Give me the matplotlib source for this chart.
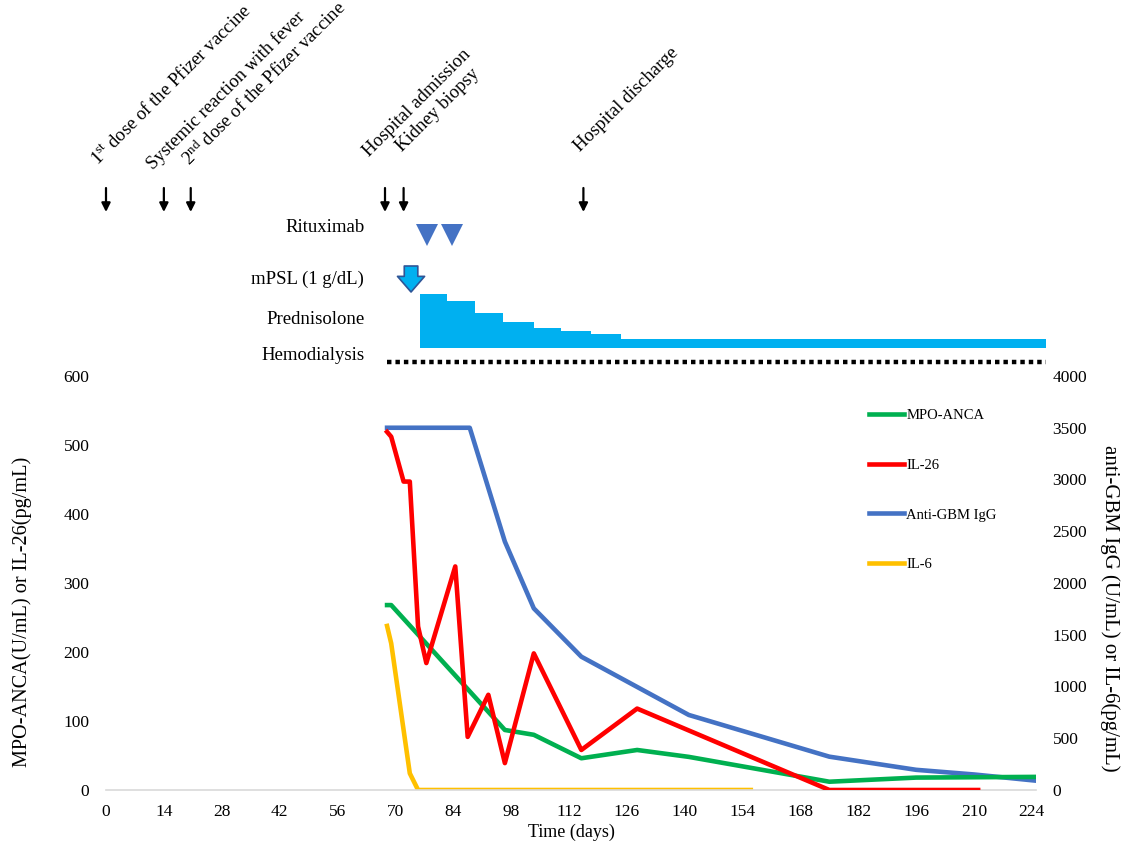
import matplotlib
matplotlib.use("Agg")
import matplotlib.pyplot as plt
from matplotlib.lines import Line2D

plt.rcParams['font.family'] = ['Liberation Serif', 'DejaVu Serif']
plt.rcParams['mathtext.fontset'] = 'custom'
plt.rcParams['mathtext.rm'] = 'Liberation Serif'
plt.rcParams['mathtext.it'] = 'Liberation Serif:italic'

# ---- data ----
# left axis (U/mL or pg/mL)
mpo_days = [68, 69, 96.5, 103.5, 115, 128.5, 141, 175, 196, 225]
mpo_vals = [268, 268, 87, 80, 46, 58, 48, 12, 18, 19]

il26_days = [68, 69, 72, 73.5, 75.5, 77.5, 84.5, 87.5, 92.5, 96.5, 103.5, 115, 128.5, 175, 211]
il26_vals = [519, 512, 447, 447, 237, 184, 324, 77, 138, 39, 198, 58, 118, 0, 0]

# right axis
gbm_days = [68, 88, 96.5, 103.5, 115, 141, 175, 196, 210, 225]
gbm_vals = [3500, 3500, 2400, 1755, 1288, 725, 322, 195, 150, 90]

il6_days = [68, 69, 73.5, 75.5, 156]
il6_vals = [1585, 1417, 161, 0, 0]

x_ticks = list(range(0, 225, 14))

# timeline events
event_days = [0, 14, 20.5, 67.5, 72, 115.5]
event_labels = [r"1$^{\mathrm{st}}$ dose of the Pfizer vaccine",
                "Systemic reaction with fever",
                r"2$^{\mathrm{nd}}$ dose of the Pfizer vaccine",
                "Hospital admission",
                "Kidney biopsy",
                "Hospital discharge"]
label_anchor_days = [-2.0, 11.3, 20.3, 63.6, 71.6, 114.7]
label_anchor_rows = [166, 170, 167, 157, 152, 152]

rituximab_days = [77.7, 83.6]
mpsl_day = 73.8
pred_days = [76, 82.6, 89.3, 96.1, 103.6, 110, 117.3, 124.7, 227.4]
pred_level = [54, 47, 34.5, 26, 20, 17, 13.7, 9, 9]
hd_start, hd_end = 68, 227.4

GREEN = '#00B050'
RED = '#FF0000'
BLUE = '#4472C4'
YELLOW = '#FFC000'
CYAN = '#00B0F0'

W, H = 1135, 843
fig = plt.figure(figsize=(W / 100, H / 100), dpi=100)

x0, x1 = 106, 1036
y_bottom, y_top = 790, 376
ax = fig.add_axes([x0 / W, 1 - y_bottom / H, (x1 - x0) / W, (y_bottom - y_top) / H])
ax2 = ax.twinx()

lw = 3.3
ax.plot(mpo_days, mpo_vals, color=GREEN, lw=lw, solid_joinstyle='round', zorder=3)
ax.plot(il26_days, il26_vals, color=RED, lw=lw, solid_joinstyle='round', zorder=4)
ax2.plot(gbm_days, gbm_vals, color=BLUE, lw=lw, solid_joinstyle='round', zorder=3)
ax2.plot(il6_days, il6_vals, color=YELLOW, lw=lw, solid_joinstyle='round', zorder=2)

ax.set_xlim(0, 225)
ax.set_ylim(0, 600)
ax2.set_ylim(0, 4000)
ax.set_xticks(x_ticks)
ax.set_yticks(range(0, 601, 100))
ax2.set_yticks(range(0, 4001, 500))

for a in (ax, ax2):
    for s in a.spines.values():
        s.set_visible(False)
ax.spines['bottom'].set_visible(True)
ax.spines['bottom'].set_color('#D9D9D9')
ax.spines['bottom'].set_linewidth(1.2)
ax.set_zorder(ax2.get_zorder() + 1)
ax.patch.set_visible(False)

ax.tick_params(axis='x', length=0, pad=10, labelsize=12.5)
ax.tick_params(axis='y', length=0, pad=12, labelsize=12.5)
ax2.tick_params(axis='y', length=0, pad=12, labelsize=12.5)

ax.set_xlabel('Time (days)', fontsize=13, labelpad=3)
ax.set_ylabel('MPO-ANCA(U/mL) or IL-26(pg/mL)', fontsize=14.6)
ax2.set_ylabel('anti-GBM IgG (U/mL) or IL-6(pg/mL)', fontsize=15, rotation=270)
ax.yaxis.set_label_coords(-0.08, 0.43)
ax2.yaxis.set_label_coords(1.09, 0.44)

handles = [Line2D([], [], color=GREEN, lw=lw),
           Line2D([], [], color=RED, lw=lw),
           Line2D([], [], color=BLUE, lw=lw),
           Line2D([], [], color=YELLOW, lw=lw)]
ax.legend(handles, ['MPO-ANCA', 'IL-26', 'Anti-GBM IgG', 'IL-6'],
          loc='upper left', bbox_to_anchor=(0.8066, 0.952), frameon=False,
          fontsize=10.5, handlelength=2.4, handletextpad=0.15, labelspacing=2.5)

# ---- timeline layer above the chart (y in pixel rows from top) ----
tl = fig.add_axes([x0 / W, 1 - y_top / H, (x1 - x0) / W, y_top / H])
tl.set_xlim(0, 225)
tl.set_ylim(y_top, 0)
tl.axis('off')

for d in event_days:
    tl.annotate('', xy=(d, 212), xytext=(d, 188),
                arrowprops=dict(arrowstyle='-|>', color='black', lw=1.6,
                                mutation_scale=13, shrinkA=0, shrinkB=0))
for lab, xd, yr in zip(event_labels, label_anchor_days, label_anchor_rows):
    tl.text(xd, yr, lab, rotation=45, rotation_mode='anchor', ha='left',
            va='baseline', fontsize=13.5)

tl.plot(rituximab_days, [234.5] * len(rituximab_days), 'v', color=BLUE,
        markersize=16.5, markeredgewidth=0)
tl.annotate('', xy=(mpsl_day, 292), xytext=(mpsl_day, 266),
            arrowprops=dict(arrowstyle='simple,head_width=1.3,head_length=0.75,tail_width=0.65',
                            fc=CYAN, ec='#2F5597', lw=1.2, mutation_scale=15,
                            shrinkA=0, shrinkB=0))
base = 347.7
tl.fill_between(pred_days, [base] * len(pred_days), [base - v for v in pred_level],
                step='post', color=CYAN, lw=0, clip_on=False)
tl.plot([hd_start, hd_end], [361.7, 361.7], color='black', lw=3.2,
        linestyle=(0, (1, 0.9)), clip_on=False)

row_labels = ['Rituximab', 'mPSL (1 g/dL)', 'Prednisolone', 'Hemodialysis']
row_y = [228, 279, 320, 356]
for lab, yr in zip(row_labels, row_y):
    tl.text(62.5, yr, lab, ha='right', va='center', fontsize=13.5)

fig.savefig('out.png', dpi=100)
